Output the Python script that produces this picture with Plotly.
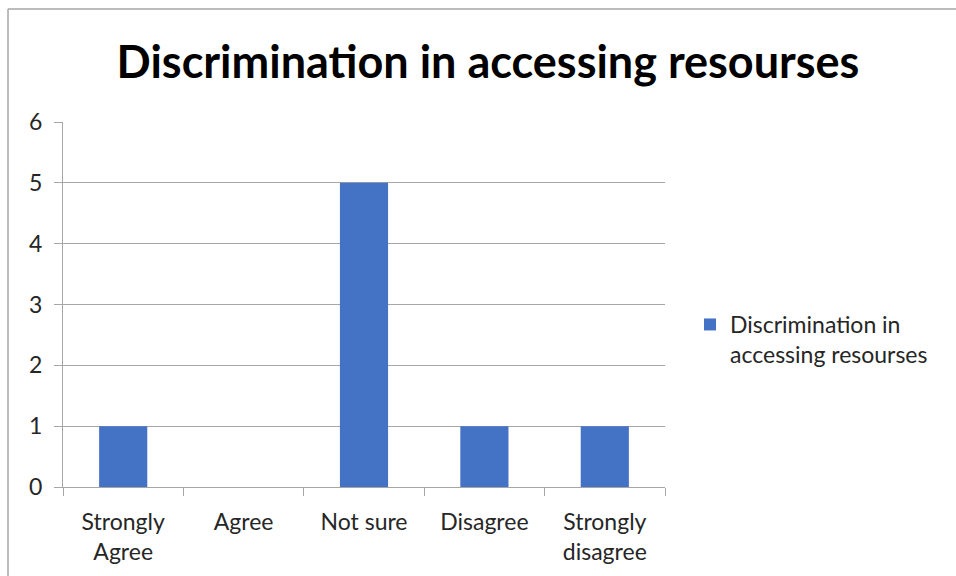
import plotly.graph_objects as go

categories = ["Strongly<br>Agree", "Agree", "Not sure", "Disagree", "Strongly<br>disagree"]
values = [1, 0, 5, 1, 1]
series_name = "Discrimination in<br>accessing resourses"
title_text = "Discrimination in accessing resourses"
y_ticks = [0, 1, 2, 3, 4, 5, 6]

BAR = "#4472C4"
GRID = "#A6A6A6"
FONT = "Lato, Carlito, Calibri, sans-serif"

fig = go.Figure()
fig.add_trace(go.Bar(
    x=categories, y=values, name=series_name,
    marker=dict(color=BAR, line=dict(width=0)),
    showlegend=True,
))

W, H = 956, 576
L, R, T, B = 63, 291, 122, 89
pw, ph = W - L - R, H - T - B

def px_x(x):
    return (x - L) / pw

def px_y(y):
    return (H - B - y) / ph

fig.update_layout(
    width=W, height=H,
    margin=dict(l=L, r=R, t=T, b=B, autoexpand=False),
    paper_bgcolor="white", plot_bgcolor="white",
    font=dict(family=FONT, size=23, color="#262626"),
    title=dict(text=f"<b>{title_text}</b>", x=px_x(488), xref="paper",
               xanchor="center", y=1 - 62 / H, yanchor="middle",
               font=dict(family=FONT, size=45, color="black")),
    bargap=0.6,
    xaxis=dict(
        type="category", tickson="boundaries", ticks="outside", ticklen=8,
        tickcolor=GRID, tickwidth=1, showline=True, linecolor=GRID,
        linewidth=1, showgrid=False, tickfont=dict(size=23),
        ticklabelstandoff=14,
    ),
    yaxis=dict(
        range=[0, 6], tickvals=y_ticks, ticks="outside", ticklen=8,
        tickcolor=GRID, showline=True, linecolor=GRID, linewidth=1,
        showgrid=True, gridcolor=GRID, gridwidth=1, zeroline=False,
        tickfont=dict(size=23), ticklabelstandoff=7,
    ),
    legend=dict(x=px_x(690), y=px_y(303), xanchor="left", yanchor="top",
                valign="top", font=dict(size=23, color="#262626"),
                bgcolor="rgba(0,0,0,0)", itemwidth=30),
    shapes=[
        dict(type="line", xref="paper", yref="paper",
             x0=px_x(8), x1=px_x(960), y0=px_y(9), y1=px_y(9),
             line=dict(color=GRID, width=1.5)),
        dict(type="line", xref="paper", yref="paper",
             x0=px_x(8), x1=px_x(8), y0=px_y(9), y1=px_y(580),
             line=dict(color=GRID, width=1.5)),
    ],
)

fig.write_html("out.html")
